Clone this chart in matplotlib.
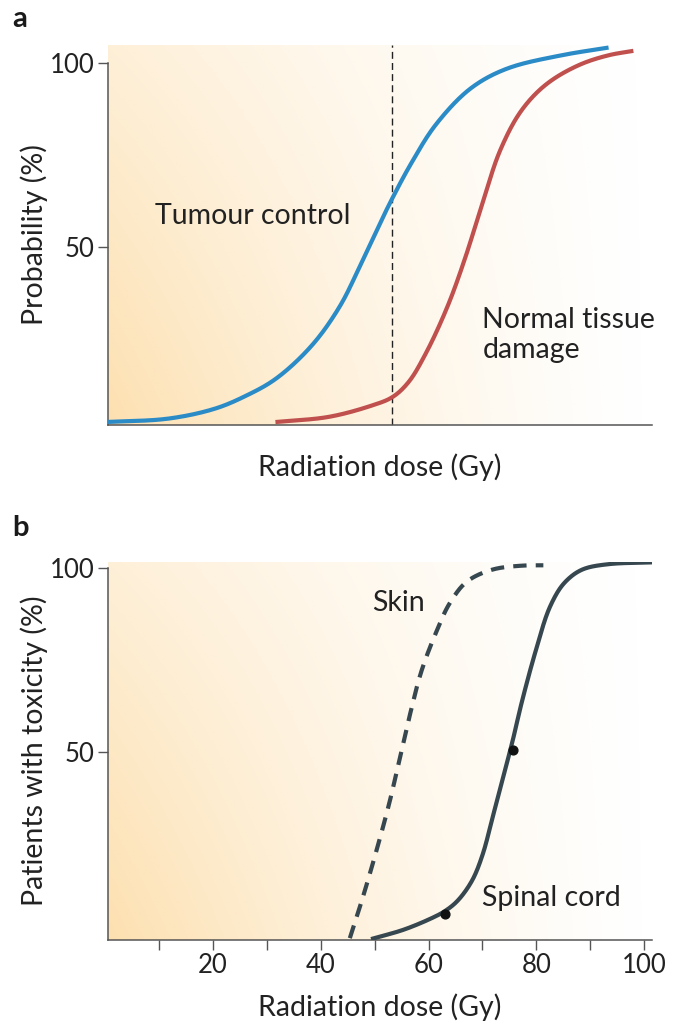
import matplotlib.pyplot as plt
import numpy as np

plt.rcParams['font.family'] = ['Lato', 'DejaVu Sans']

# panel a: dose-response curves (x in Gy-like units, y in %)
tumour_x = [0, 11.6, 20.3, 26.2, 31.6, 38.2, 43.5, 47.5, 50.8, 53.2, 56.8, 61.5, 68.1, 74.8, 84.7, 93.4]
tumour_y = [2.3, 3.2, 5.9, 9.5, 14, 22.9, 33.7, 45.5, 55.8, 63, 72.8, 83.6, 93.5, 98.7, 102.2, 104.3]
normal_x = [31.6, 41.5, 49.5, 53.2, 56.2, 59.5, 63.5, 66.8, 70.1, 73.4, 77.4, 82.1, 88, 93.4, 98]
normal_y = [2.3, 3.7, 6.8, 9, 13, 21, 33.7, 47, 62.4, 76.7, 87.5, 94.6, 99.6, 102.2, 103.4]
dose_line = 53.2

# panel b
skin_x = [45.4, 47.4, 50.1, 52.7, 54.7, 56.7, 58.7, 61.4, 64, 67.3, 72, 77.3, 81.3]
skin_y = [-0.5, 8.6, 22, 36, 48.5, 61, 72, 82.4, 90.5, 96.4, 99.5, 100.5, 100.6]
cord_x = [49.7, 55.4, 60.7, 63, 65.3, 68, 70, 72, 74, 75.6, 77.3, 80, 82.6, 85.3, 88.6, 93.3, 101.6]
cord_y = [-0.6, 1.8, 5, 6.8, 9.5, 14.9, 22, 32.9, 44, 53, 63.5, 78, 89.6, 96, 99.5, 100.9, 101.4]
cord_pts_x = [63, 75.6]
cord_pts_y = [6.1, 50.6]

x_major = [20, 40, 60, 80, 100]
x_minor = [10, 30, 50, 70, 90]
y_ticks = [50, 100]


def smooth(xs, ys, n=40, k=9):
    # centripetal Catmull-Rom through the read-off points, then a light blur
    p = np.column_stack([xs, ys]).astype(float)
    p = np.vstack([2 * p[0] - p[1], p, 2 * p[-1] - p[-2]])
    out = []
    for i in range(1, len(p) - 2):
        p0, p1, p2, p3 = p[i - 1], p[i], p[i + 1], p[i + 2]
        t0 = 0.0
        t1 = t0 + np.linalg.norm(p1 - p0) ** 0.5
        t2 = t1 + np.linalg.norm(p2 - p1) ** 0.5
        t3 = t2 + np.linalg.norm(p3 - p2) ** 0.5
        t = np.linspace(t1, t2, n, endpoint=False)[:, None]
        a1 = (t1 - t) / (t1 - t0) * p0 + (t - t0) / (t1 - t0) * p1
        a2 = (t2 - t) / (t2 - t1) * p1 + (t - t1) / (t2 - t1) * p2
        a3 = (t3 - t) / (t3 - t2) * p2 + (t - t2) / (t3 - t2) * p3
        b1 = (t2 - t) / (t2 - t0) * a1 + (t - t0) / (t2 - t0) * a2
        b2 = (t3 - t) / (t3 - t1) * a2 + (t - t1) / (t3 - t1) * a3
        out.append((t2 - t) / (t2 - t1) * b1 + (t - t1) / (t2 - t1) * b2)
    out.append(p[-2][None, :])
    out = np.vstack(out)
    ker = np.exp(-np.linspace(-2, 2, 2 * k + 1) ** 2)
    ker /= ker.sum()
    sx = np.convolve(np.pad(out[:, 0], k, mode='reflect', reflect_type='odd'), ker, mode='valid')
    sy = np.convolve(np.pad(out[:, 1], k, mode='reflect', reflect_type='odd'), ker, mode='valid')
    return sx, sy


def background(ax, x0, x1, y0, y1):
    fx, fy = np.meshgrid(np.linspace(0, 1, 300), np.linspace(0, 1, 200))
    a = (1 - fx) ** 1.4 * (1 - 0.5 * fy)
    img = np.zeros((200, 300, 4))
    img[..., 0] = 253 / 255
    img[..., 1] = 224 / 255
    img[..., 2] = 176 / 255
    img[..., 3] = a
    ax.imshow(img, extent=(x0, x1, y0, y1), origin='lower', aspect='auto', zorder=0)


def style(ax, ylo):
    for s in ['top', 'right']:
        ax.spines[s].set_visible(False)
    for s in ['left', 'bottom']:
        ax.spines[s].set_color('#555555')
        ax.spines[s].set_linewidth(1.1)
    ax.spines['left'].set_bounds(ylo, 100)
    ax.set_yticks(y_ticks)
    ax.set_yticklabels([str(v) for v in y_ticks])
    ax.tick_params(axis='both', which='both', length=7, width=1, color='#555555',
                   labelsize=18.5, labelcolor='#222222', pad=2.5)


text_kw = dict(fontsize=20.5, color='#222222')

fig = plt.figure(figsize=(6.78, 10.34), dpi=100)
ax1 = fig.add_axes([0.159, 0.589, 0.803, 0.3675])
ax2 = fig.add_axes([0.159, 0.0909, 0.803, 0.3656])

# panel a
xl = (0.5, 101.5)
ya = (1.5, 105)
background(ax1, *xl, *ya)
ax1.set_xlim(xl)
ax1.set_ylim(ya)
x, y = smooth(tumour_x, tumour_y)
ax1.plot(x, y, color='#2b8bc6', lw=3, solid_capstyle='butt', zorder=3)
x, y = smooth(normal_x, normal_y)
ax1.plot(x, y, color='#c0504e', lw=3, solid_capstyle='butt', zorder=3)
ax1.axvline(dose_line, color='#222222', lw=1, ls=(0, (5, 3)), zorder=2)
style(ax1, ya[0])
ax1.set_xticks([])
ax1.text(27.3, 58.5, 'Tumour control', ha='center', va='center', **text_kw)
ax1.text(70, 26, 'Normal tissue\ndamage', ha='left', va='center', linespacing=1.2, **text_kw)
ax1.set_ylabel('Probability (%)', **text_kw)
ax1.yaxis.set_label_coords(-0.11, 0.5)
ax1.set_xlabel('Radiation dose (Gy)', **text_kw)
ax1.xaxis.set_label_coords(0.5, -0.076)

# panel b
yb = (-1, 101.5)
background(ax2, *xl, *yb)
ax2.set_xlim(xl)
ax2.set_ylim(yb)
x, y = smooth(skin_x, skin_y)
ax2.plot(x, y, color='#37474f', lw=3, ls=(0, (3.2, 2.2)), zorder=3)
x, y = smooth(cord_x, cord_y)
ax2.plot(x, y, color='#37474f', lw=3, zorder=3)
ax2.scatter(cord_pts_x, cord_pts_y, s=40, color='#111111', zorder=4)
style(ax2, yb[0])
ax2.set_xticks(x_major)
ax2.set_xticklabels([str(v) for v in x_major])
ax2.set_xticks(x_minor, minor=True)
ax2.text(49.5, 90.5, 'Skin', ha='left', va='center', **text_kw)
ax2.text(70, 10.5, 'Spinal cord', ha='left', va='center', **text_kw)
ax2.set_ylabel('Patients with toxicity (%)', **text_kw)
ax2.yaxis.set_label_coords(-0.11, 0.5)
ax2.set_xlabel('Radiation dose (Gy)', **text_kw)
ax2.xaxis.set_label_coords(0.5, -0.14)

fig.text(0.018, 0.982, 'a', fontsize=21, fontweight='bold', color='#1a1a1a', va='center')
fig.text(0.018, 0.489, 'b', fontsize=21, fontweight='bold', color='#1a1a1a', va='center')

fig.savefig('out.png', dpi=100)
